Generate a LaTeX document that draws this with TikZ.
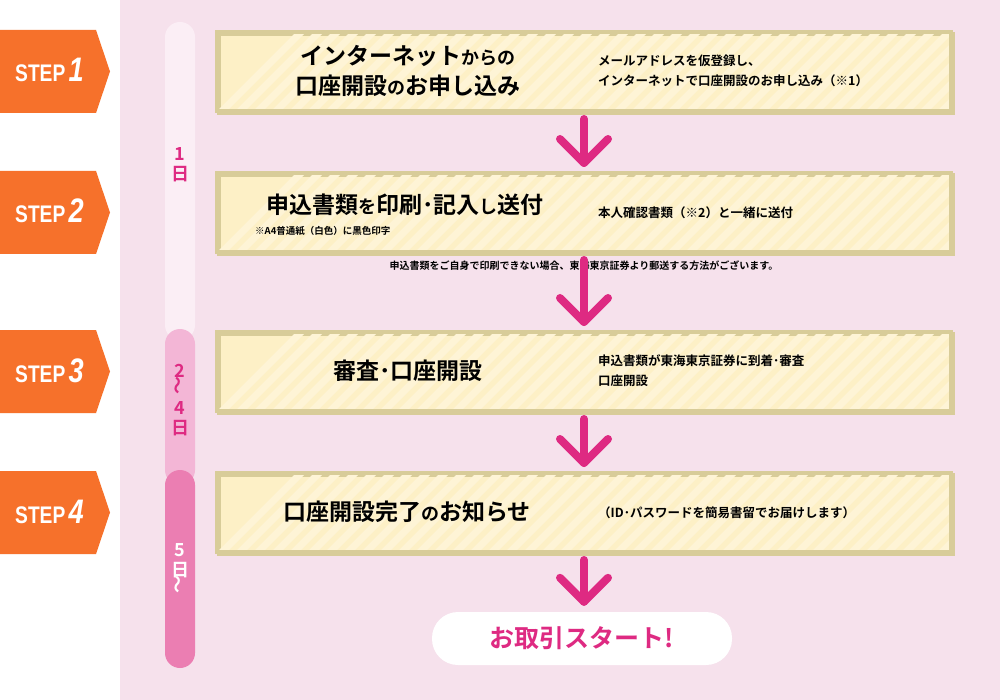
\documentclass[tikz,border=0pt]{standalone}
\usepackage{fontspec}
\setmainfont{Noto Sans CJK JP}[BoldFont={* Bold}]
\newfontfamily\stepfont{Liberation Sans Bold}
\newfontfamily\stepfontit{Liberation Sans Bold Italic}
\begin{document}
\begin{tikzpicture}[x=1pt,y=-1pt,
  every node/.style={inner sep=0pt,font=\bfseries},
  stepbox/.style={draw=boxedge,line width=4pt,fill=boxfill},
  tag/.style={fill=tagor},
  flow/.style={draw=mag,line width=8pt,line cap=round,line join=round},
  desc/.style={anchor=west,align=left,font=\bfseries\fontsize{12.5}{20}\selectfont},
  ttl/.style={font=\bfseries\fontsize{23}{30}\selectfont,align=center}]
\definecolor{bg}{HTML}{F6E1EC}\definecolor{boxedge}{HTML}{D8CC99}
\definecolor{boxfill}{HTML}{FDF0C6}\definecolor{stripe}{HTML}{FEF4D6}
\definecolor{tagor}{HTML}{F6712B}\definecolor{mag}{HTML}{DE2A82}
\definecolor{bar1}{HTML}{FBEEF5}\definecolor{bar2}{HTML}{F3B6D6}\definecolor{bar3}{HTML}{EB7EB2}
\useasboundingbox (0,0) rectangle (1000,700);
\fill[white] (0,0) rectangle (1000,700);
\fill[bg] (120,0) rectangle (1000,700);
% timeline
\fill[bar1,rounded corners=15] (165,22) rectangle (195,340);
\fill[bar2,rounded corners=15] (165,329) rectangle (195,485);
\fill[bar3,rounded corners=15] (165,470) rectangle (195,668);
\node[text=mag,font=\bfseries\fontsize{18}{20}\selectfont,align=center] (d1) at (180,165) {1\\日};
\node[text=mag,font=\bfseries\fontsize{18}{20}\selectfont,align=center] (d2) at (180,400) {2\\[-3pt]\rotatebox{90}{～}\\4\\日};
\node[text=white,font=\bfseries\fontsize{18}{20}\selectfont,align=center] (d3) at (180,569) {5\\日\\[-3pt]\rotatebox{90}{～}};
% tags
\foreach \n/\t in {1/30,2/171,3/330,4/471}{
  \fill[tag] (0,\t) -- (96,\t) -- (110,\t+41.5) -- (96,\t+83) -- (0,\t+83) -- cycle;
  \node[text=white,anchor=base west] (tag\n) at (15,\t+52) {\scalebox{0.8}[1]{\stepfont\fontsize{24}{24}\selectfont STEP\,\stepfontit\fontsize{34}{34}\selectfont \n}};
}
% boxes
\foreach \n/\t in {1/30,2/171,3/330,4/471}{
  \node[stepbox,minimum width=734,minimum height=79,anchor=north west] (b\n) at (217,\t+2) {};
  \begin{scope}
    \clip (219,\t+4) rectangle (951,\t+79);
    \foreach \k in {0,18,...,850}{\fill[stripe] (219+\k,\t+79) -- (229+\k,\t+79) -- (304+\k,\t+4) -- (294+\k,\t+4) -- cycle;}
  \end{scope}
  \draw[boxedge,line width=4pt] (217,\t+2) rectangle (951,\t+81);
}
\newcommand\sm[1]{{\fontsize{18}{30}\selectfont #1}}
\node[ttl] (t1) at (408,71) {インターネット\sm{からの}\\口座開設\sm{の}お申し込み};
\node[desc] (r1) at (598,71) {メールアドレスを仮登録し、\\インターネットで口座開設のお申し込み（※1）};
\node[ttl] (t2) at (405,205) {申込書類\sm{を}印刷･記入\sm{し}送付};
\node[anchor=west,font=\bfseries\fontsize{9.5}{10}\selectfont] (n2) at (255,231) {※A4普通紙（白色）に黒色印字};
\node[desc] (r2) at (598,213) {本人確認書類（※2）と一緒に送付};
\node[font=\bfseries\fontsize{10}{10}\selectfont] (n3) at (584,266) {申込書類をご自身で印刷できない場合、東海東京証券より郵送する方法がございます。};
\node[ttl] (t3) at (408,371) {審査･口座開設};
\node[desc] (r3) at (598,371) {申込書類が東海東京証券に到着･審査\\口座開設};
\node[ttl] (t4) at (407,512) {口座開設完了\sm{の}お知らせ};
\node[desc] (r4) at (598,513) {（ID･パスワードを簡易書留でお届けします）};
% end
\node[fill=white,rounded corners=26,minimum width=300,minimum height=53,text=mag,font=\bfseries\fontsize{25}{25}\selectfont] (go) at (582,638.5) {お取引スタート!};
% arrows
\foreach \a/\b in {b1/b2,b2/b3,b3/b4,b4/go}{
  \path (\a.south) ++(0,4) coordinate (s);
  \path (\b.north) ++(0,-10) coordinate (e);
  \draw[flow] (s -| 584,0) -- (e -| 584,0);
  \draw[flow] ([xshift=-24,yshift=24]e -| 584,0) -- (e -| 584,0) -- ([xshift=24,yshift=24]e -| 584,0);
}
\end{tikzpicture}
\end{document}
